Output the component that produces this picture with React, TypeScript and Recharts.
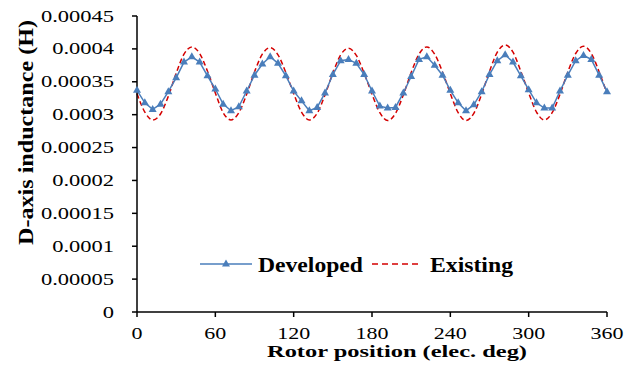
import React from 'react';
import { LineChart, Line, XAxis, YAxis, Legend } from 'recharts';

// rotor position, elec. deg (one marker every 6 deg)
const angles = [
  0, 6, 12, 18, 24, 30, 36, 42, 48, 54, 60, 66, 72, 78, 84, 90, 96, 102, 108, 114, 120,
  126, 132, 138, 144, 150, 156, 162, 168, 174, 180, 186, 192, 198, 204, 210, 216, 222, 228, 234, 240,
  246, 252, 258, 264, 270, 276, 282, 288, 294, 300, 306, 312, 318, 324, 330, 336, 342, 348, 354, 360,
];

// d-axis inductance (H)
const developed = [
  0.000337, 0.000318, 0.000308, 0.000316, 0.000335, 0.000356, 0.00038, 0.000388, 0.00038, 0.000359, 0.000339,
  0.000316, 0.000306, 0.000312, 0.000336, 0.00036, 0.000377, 0.000388, 0.000378, 0.000359, 0.000336,
  0.000321, 0.000306, 0.000311, 0.000333, 0.000361, 0.000382, 0.000384, 0.000378, 0.000361, 0.000336,
  0.000313, 0.00031, 0.000311, 0.000333, 0.000358, 0.000384, 0.000388, 0.000375, 0.00036, 0.000337,
  0.000318, 0.000306, 0.000315, 0.000335, 0.000361, 0.000382, 0.000391, 0.00038, 0.000359, 0.000338,
  0.000318, 0.00031, 0.00031, 0.000336, 0.00036, 0.000382, 0.00039, 0.000384, 0.00036, 0.000335,
];

const existing = [
  0.000332, 0.000304, 0.000292, 0.000301, 0.000328, 0.000363, 0.000392, 0.000403, 0.000393, 0.000366, 0.000333,
  0.000303, 0.000292, 0.000303, 0.000331, 0.000365, 0.000392, 0.000402, 0.000391, 0.000364, 0.000332,
  0.000304, 0.000292, 0.000302, 0.00033, 0.000363, 0.000391, 0.000401, 0.00039, 0.000363, 0.000331,
  0.000303, 0.000291, 0.000302, 0.00033, 0.000364, 0.000392, 0.000403, 0.000392, 0.000365, 0.000332,
  0.000303, 0.000291, 0.000302, 0.000331, 0.000366, 0.000395, 0.000406, 0.000395, 0.000366, 0.000333,
  0.000304, 0.000292, 0.000303, 0.000331, 0.000365, 0.000393, 0.000404, 0.000393, 0.000365, 0.000332,
];

const xTicks = [0, 60, 120, 180, 240, 300, 360];
const yTicks = [0, 0.00005, 0.0001, 0.00015, 0.0002, 0.00025, 0.0003, 0.00035, 0.0004, 0.00045];

const data = angles.map((a, i) => ({ angle: a, developed: developed[i], existing: existing[i] }));

const FONT = '"Liberation Serif", "Times New Roman", serif';
const BLUE = '#4a7ebb';
const RED = '#d40000';

// width of a numeric label in em (Times digits are 0.5em, the dot 0.25em)
const emWidth = (s: string) => s.split('').reduce((w, c) => w + (c === '.' ? 0.25 : 0.5), 0);

const YTick = (props: any) => {
  const { x, y, payload } = props;
  const s = String(payload.value);
  return (
    <text x={x - 16} y={y + 5.5} textAnchor="end" fontFamily={FONT} fontSize={16} fill="#000"
      textLength={emWidth(s) * 22.5} lengthAdjust="spacingAndGlyphs">
      {s}
    </text>
  );
};

const XTick = (props: any) => {
  const { x, y, payload } = props;
  const s = String(payload.value);
  return (
    <text x={x} y={y + 20} textAnchor="middle" fontFamily={FONT} fontSize={16} fill="#000"
      textLength={emWidth(s) * 22} lengthAdjust="spacingAndGlyphs">
      {s}
    </text>
  );
};

const Triangle = (props: any) => {
  const { cx, cy } = props;
  if (cx == null || cy == null) return null;
  return <polygon points={`${cx},${cy - 4.5} ${cx - 4},${cy + 2.5} ${cx + 4},${cy + 2.5}`} fill={BLUE} />;
};

const YTitle = () => (
  <text x={33} y={132.5} transform="rotate(-90 33 132.5)" textAnchor="middle" fontFamily={FONT}
    fontSize={21} fontWeight="bold" fill="#000" textLength={225} lengthAdjust="spacingAndGlyphs">
    D-axis inductance  (H)
  </text>
);

const XTitle = () => (
  <text x={267} y={357} fontFamily={FONT} fontSize={16} fontWeight="bold" fill="#000"
    textLength={260} lengthAdjust="spacingAndGlyphs">
    Rotor position (elec. deg)
  </text>
);

const LegendBox = () => (
  <svg width={340} height={30} style={{ display: 'block' }}>
    <line x1={10} y1={14} x2={62} y2={14} stroke={BLUE} strokeWidth={1.5} />
    <polygon points="36,9.5 32,16.5 40,16.5" fill={BLUE} />
    <text x={68} y={22} fontFamily={FONT} fontSize={22} fontWeight="bold" fill="#000"
      textLength={105} lengthAdjust="spacingAndGlyphs">
      Developed
    </text>
    <line x1={182} y1={14} x2={230} y2={14} stroke={RED} strokeWidth={1.5} strokeDasharray="6 4" />
    <text x={240} y={22} fontFamily={FONT} fontSize={22} fontWeight="bold" fill="#000"
      textLength={83} lengthAdjust="spacingAndGlyphs">
      Existing
    </text>
  </svg>
);

export default function App() {
  return (
    <div style={{ position: 'absolute', left: 0, top: 0, width: 638, height: 368, background: '#fff' }}>
      <LineChart width={638} height={368} data={data} margin={{ top: 16, right: 31, bottom: 0, left: 0 }}>
        <XAxis
          dataKey="angle"
          type="number"
          domain={[0, 360]}
          ticks={xTicks}
          height={56}
          tick={<XTick />}
          tickSize={5}
          axisLine={{ stroke: '#000', strokeWidth: 1.5 }}
          tickLine={{ stroke: '#000', strokeWidth: 1.5 }}
          label={<XTitle />}
        />
        <XAxis xAxisId="top" orientation="top" type="number" domain={[0, 360]} height={0}
          tick={false} tickLine={false} axisLine={{ stroke: '#444', strokeWidth: 1.5 }} />
        <YAxis
          type="number"
          domain={[0, 0.00045]}
          ticks={yTicks}
          width={137}
          tick={<YTick />}
          tickSize={5}
          axisLine={{ stroke: '#000', strokeWidth: 1.5 }}
          tickLine={{ stroke: '#000', strokeWidth: 1.5 }}
          label={<YTitle />}
        />
        <YAxis yAxisId="right" orientation="right" type="number" domain={[0, 0.00045]} width={0}
          tick={false} tickLine={false} axisLine={{ stroke: '#000', strokeWidth: 1.5 }} />
        <Legend
          layout="horizontal"
          align="center"
          verticalAlign="middle"
          content={<LegendBox />}
          wrapperStyle={{ position: 'absolute', left: 190, top: 250, width: 340, height: 30 }}
        />
        <Line
          dataKey="existing"
          type="monotone"
          stroke={RED}
          strokeWidth={1.5}
          strokeDasharray="5 3"
          dot={false}
          isAnimationActive={false}
        />
        <Line
          dataKey="developed"
          type="linear"
          stroke={BLUE}
          strokeWidth={1.5}
          dot={<Triangle />}
          activeDot={false}
          isAnimationActive={false}
        />
      </LineChart>
    </div>
  );
}
